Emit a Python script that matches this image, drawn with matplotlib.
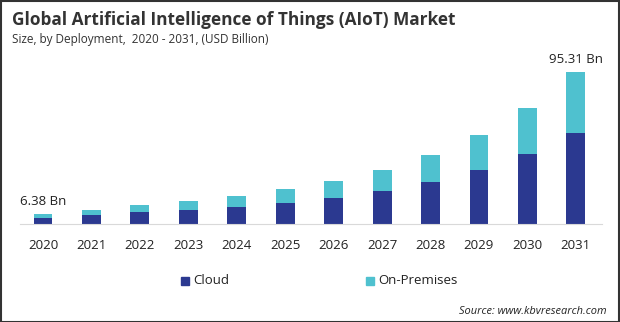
import numpy as np
import matplotlib.pyplot as plt
from matplotlib.patches import Rectangle

years = ['2020', '2021', '2022', '2023', '2024', '2025',
         '2026', '2027', '2028', '2029', '2030', '2031']
cloud = [4.0, 5.8, 7.5, 8.8, 10.7, 13.2, 16.3, 20.7, 26.3, 33.9, 43.9, 57.1]
on_premises = [2.38, 3.0, 4.4, 5.6, 6.9, 8.7, 10.7, 13.2, 17.0, 21.9, 28.8, 38.21]
total_labels = {0: '6.38 Bn', 11: '95.31 Bn'}

cloud_color = '#2b3990'
prem_color = '#4fc1cf'
plt.rcParams['font.family'] = ['Open Sans', 'DejaVu Sans']

fig = plt.figure(figsize=(6.2, 3.22), dpi=100)
ax = fig.add_axes([20 / 620, 1 - 224 / 322, 582 / 620, 164 / 322])

x = np.arange(len(years))
cloud = np.array(cloud)
on_premises = np.array(on_premises)
ax.bar(x, cloud, width=0.39, color=cloud_color)
ax.bar(x, on_premises, width=0.39, bottom=cloud, color=prem_color)

for i, txt in total_labels.items():
    ax.annotate(txt, (x[i], cloud[i] + on_premises[i]), xytext=(0, 4),
                textcoords='offset points', ha='center', va='bottom',
                fontsize=9.5, color='#222222')

ax.set_xlim(-0.475, 11.54)
ax.set_ylim(0, 102.8)
ax.set_xticks(x)
ax.set_xticklabels(years, fontsize=9.5, color='#222222')
ax.tick_params(axis='x', length=0, pad=11)
ax.set_yticks([])
for side in ['top', 'right', 'left']:
    ax.spines[side].set_visible(False)
ax.spines['bottom'].set_color('#d9d9d9')

fig.text(12 / 620, 1 - 20 / 322, 'Global Artificial Intelligence of Things (AIoT) Market',
         fontsize=12.4, fontweight='bold', color='#333333', va='center')
fig.text(12 / 620, 1 - 40 / 322, 'Size, by Deployment,  2020 - 2031, (USD Billion)',
         fontsize=8.5, color='#333333', va='center')

# legend drawn by hand in figure coordinates
for lx, label, col in [(181, 'Cloud', cloud_color), (366, 'On-Premises', prem_color)]:
    fig.patches.append(Rectangle((lx / 620, 1 - 285 / 322), 8 / 620, 8 / 322,
                                 color=col, transform=fig.transFigure))
    fig.text((lx + 12) / 620, 1 - 280 / 322, label, fontsize=9.5, color='#222222', va='center')

fig.text(607 / 620, 1 - 311 / 322, 'Source: www.kbvresearch.com', fontsize=7.9,
         style='italic', color='#222222', ha='right', va='center')

fig.patches.append(Rectangle((0.5 / 620, 0.5 / 322), 618.5 / 620, 320.5 / 322, fill=False,
                             edgecolor='#333333', linewidth=1.5, transform=fig.transFigure))

fig.savefig('out.png', dpi=100)
